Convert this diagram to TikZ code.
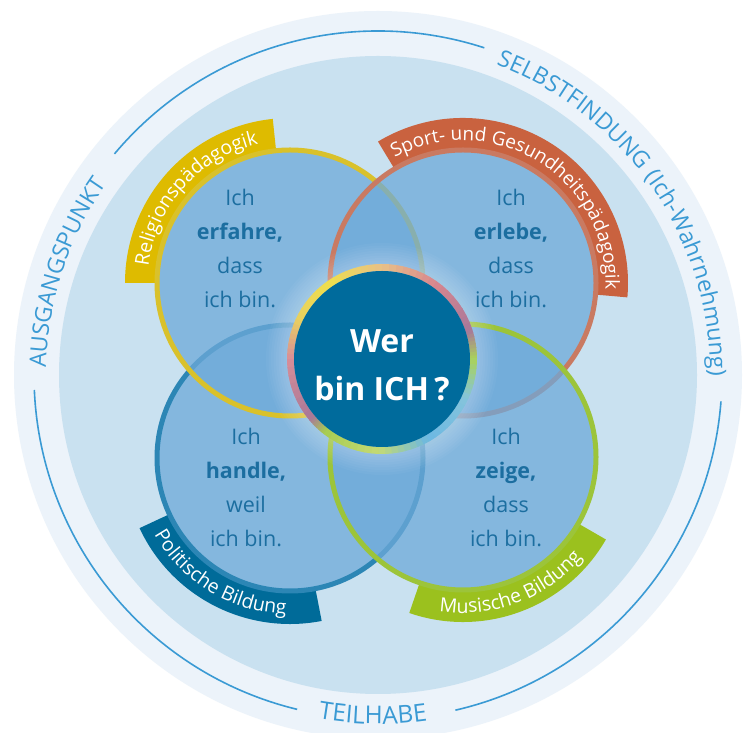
\documentclass[tikz,border=0pt]{standalone}
\usepackage{fontspec}
\setmainfont{Open Sans}
\newfontfamily\spacedfont[LetterSpace=6]{Open Sans}
\usetikzlibrary{decorations.text}
\definecolor{outerbg}{HTML}{ECF3FA}
\definecolor{innerbg}{HTML}{C9E1F0}
\definecolor{arcblue}{HTML}{3A9AD4}
\definecolor{circfill}{HTML}{6EAAD9}
\definecolor{cyellow}{HTML}{D9C12B}
\definecolor{cred}{HTML}{C97A62}
\definecolor{cblue}{HTML}{2C86B5}
\definecolor{cgreen}{HTML}{9CC43A}
\definecolor{byellow}{HTML}{DEBB00}
\definecolor{bred}{HTML}{C9623F}
\definecolor{bblue}{HTML}{006B99}
\definecolor{bgreen}{HTML}{9BC11E}
\definecolor{centerblue}{HTML}{006B9C}
\definecolor{textblue}{HTML}{1C6EA0}
\definecolor{ringGa}{HTML}{A9D25A}
\definecolor{ringMa}{HTML}{A8789A}
\definecolor{ringPa}{HTML}{D8868E}
\definecolor{ringO}{HTML}{E8C088}
\definecolor{ringY}{HTML}{EEDF4C}
\definecolor{ringYb}{HTML}{E8D060}
\definecolor{ringPb}{HTML}{D88E98}
\definecolor{ringMb}{HTML}{A87898}
\definecolor{ringGb}{HTML}{A6CC52}
\definecolor{ringYG}{HTML}{C4DA74}
\definecolor{ringB}{HTML}{6CB8E2}
\definecolor{ringBb}{HTML}{84C4DC}
\tikzset{
  circtext/.style={align=center, text=textblue, font=\fontsize{21.5}{34.3}\selectfont},
  centertext/.style={align=center, text=white, font=\fontsize{32}{48}\selectfont\bfseries},
  arcline/.style={draw=arcblue, line width=1.6},
  circfillstyle/.style={fill=circfill, opacity=0.75},
  circstroke/.style={line width=5},
}
\begin{document}
\begin{tikzpicture}[x=1pt,y=1pt]
\useasboundingbox (0,0) rectangle (747,733);
\fill[white] (0,0) rectangle (747,733);
\coordinate (Cm) at (378,358);
\coordinate (cY) at (290,450);
\coordinate (cR) at (463,450);
\coordinate (cB) at (290,275);
\coordinate (cG) at (463,276);
\coordinate (Cc) at (382,374);
% background discs
\fill[outerbg] (Cm) circle[radius=364];
\fill[innerbg] (Cm) circle[radius=319];
% outer arc segments
\draw[arcline] ([shift={(140:344)}]Cm) arc[start angle=140, end angle=72, radius=344];
\draw[arcline] ([shift={(-4.4:344)}]Cm) arc[start angle=-4.4, end angle=-77, radius=344];
\draw[arcline] ([shift={(-103.6:344)}]Cm) arc[start angle=-103.6, end angle=-177.5, radius=344];
% outer texts
\path[decorate, decoration={text along path, text align=center, text color=arcblue,
  text={|\spacedfont\fontsize{23}{23}\selectfont|AUSGANGSPUNKT}}]
  ([shift={(190:332)}]Cm) arc[start angle=190, end angle=133.6, radius=332];
\path[decorate, decoration={text along path, text align=center, text color=arcblue,
  text={|\spacedfont\fontsize{23}{23}\selectfont|SELBSTFINDUNG (Ich-Wahrnehmung)}}]
  ([shift={(74:332)}]Cm) arc[start angle=74, end angle=-5, radius=332];
\path[decorate, decoration={text along path, text align=center, text color=arcblue,
  text={|\spacedfont\fontsize{24.5}{24.5}\selectfont|TEILHABE}}]
  ([shift={(-110:349)}]Cm) arc[start angle=-110, end angle=-71.7, radius=349];
% banners
\fill[byellow] ([shift={(96:133)}]cY) arc[start angle=96, end angle=180, radius=133]
  -- ([shift={(180:165)}]cY) arc[start angle=180, end angle=96, radius=165] -- cycle;
\fill[bred] ([shift={(-5:133)}]cR) arc[start angle=-5, end angle=121, radius=133]
  -- ([shift={(121:165)}]cR) arc[start angle=121, end angle=-5, radius=165] -- cycle;
\fill[bblue] ([shift={(205:133)}]cB) arc[start angle=205, end angle=281, radius=133]
  -- ([shift={(281:166)}]cB) arc[start angle=281, end angle=205, radius=166] -- cycle;
\fill[bgreen] ([shift={(251:133)}]cG) arc[start angle=251, end angle=330, radius=133]
  -- ([shift={(330:165)}]cG) arc[start angle=330, end angle=251, radius=165] -- cycle;
% banner texts
\path[decorate, decoration={text along path, text align=center, text color=white,
  text={|\fontsize{19.5}{19.5}\selectfont|Religionspädagogik}}]
  ([shift={(180:142.5)}]cY) arc[start angle=180, end angle=96, radius=142.5];
\path[decorate, decoration={text along path, text align=center, text color=white,
  text={|\fontsize{19}{19}\selectfont|Sport- und Gesundheitspädagogik}}]
  ([shift={(121:142.5)}]cR) arc[start angle=121, end angle=-5, radius=142.5];
\path[decorate, decoration={text along path, text align=center, text color=white,
  text={|\fontsize{19.5}{19.5}\selectfont|Politische Bildung}}]
  ([shift={(200:156)}]cB) arc[start angle=200, end angle=278, radius=156];
\path[decorate, decoration={text along path, text align=center, text color=white,
  text={|\fontsize{19.5}{19.5}\selectfont|Musische Bildung}}]
  ([shift={(251:156)}]cG) arc[start angle=251, end angle=330, radius=156];
% circles: blue, yellow, red, green
\fill[circfillstyle] (cB) circle[radius=133];
\draw[circstroke, draw=cblue] (cB) circle[radius=133];
\fill[circfillstyle] (cY) circle[radius=133];
\draw[circstroke, draw=cyellow] (cY) circle[radius=133];
\fill[circfillstyle] (cR) circle[radius=133];
\draw[circstroke, draw=cred] (cR) circle[radius=133];
\fill[circfillstyle] (cG) circle[radius=133];
\draw[circstroke, draw=cgreen] (cG) circle[radius=133];
% glow
\foreach \r in {116,113.5,...,96}{
  \fill[white, opacity=0.035] (Cc) circle[radius=\r];
}
% ring
\foreach \a/\ca/\b/\cb in {0/ringGa/18/ringMa, 18/ringMa/55/ringPa, 55/ringPa/90/ringO,
  90/ringO/125/ringY, 125/ringY/155/ringYb, 155/ringYb/180/ringPb, 180/ringPb/220/ringMb,
  220/ringMb/232/ringGb, 232/ringGb/268/ringYG, 268/ringYG/300/ringB, 300/ringB/335/ringBb,
  335/ringBb/360/ringGa}{
  \foreach \j in {0,...,7}{
    \pgfmathsetmacro\s{\a+(\b-\a)*\j/8}
    \pgfmathsetmacro\e{\a+(\b-\a)*(\j+1)/8+0.6}
    \pgfmathtruncatemacro\p{100-(\j+0.5)*100/8}
    \draw[line width=7, draw=\ca!\p!\cb] ([shift={(\s:91.5)}]Cc) arc[start angle=\s, end angle=\e, radius=91.5];
  }
}
\fill[centerblue] (Cc) circle[radius=88];
% texts
\node[circtext] (tY) at (240,484.5) {Ich\\\textbf{erfahre,}\\dass\\ich bin.};
\node[circtext] (tR) at (511,484.5) {Ich\\\textbf{erlebe,}\\dass\\ich bin.};
\node[circtext] (tB) at (246,245.5) {Ich\\\textbf{handle,}\\weil\\ich bin.};
\node[circtext] (tG) at (506,245.5) {Ich\\\textbf{zeige,}\\dass\\ich bin.};
\node[centertext] (q) at (382,368) {Wer\\bin ICH\,?};
\end{tikzpicture}
\end{document}
